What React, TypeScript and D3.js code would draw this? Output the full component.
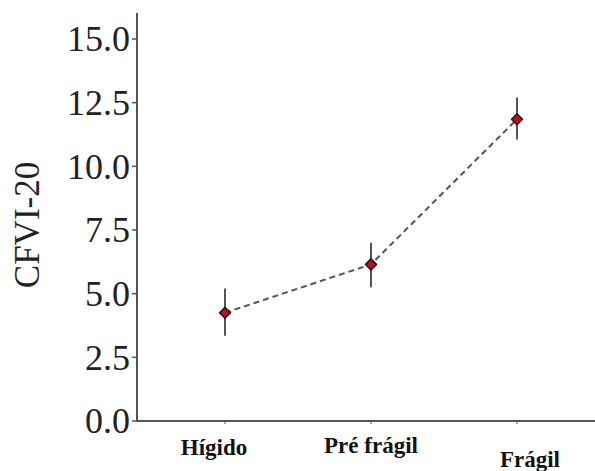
import React from "react";
import * as d3 from "d3";

const categories = ["Hígido", "Pré frágil", "Frágil"];
const means = [4.25, 6.15, 11.85];
const upper = [5.2, 7.0, 12.7];
const lower = [3.35, 5.25, 11.05];
const yTicks = [0, 2.5, 5, 7.5, 10, 12.5, 15];

const width = 595;
const height = 471;
const axisX = 137;
const axisTop = 13;

export default function App() {
  const y = d3.scaleLinear().domain([0, 15]).range([421, 39]);
  const x = d3.scalePoint().domain(categories).range([225, 517]);

  const pts = categories.map((c, i) => ({ c, m: means[i], hi: upper[i], lo: lower[i] }));
  const line = d3
    .line<{ c: string; m: number }>()
    .x((d) => x(d.c) as number)
    .y((d) => y(d.m));

  // labels sit a little off their ticks in the original
  const labelDx = [-11, 0, 13];
  const labelY = [455, 453, 467];

  return (
    <svg
      width={width}
      height={height}
      style={{ position: "absolute", left: 0, top: 0, background: "#fff" }}
    >
      {/* axes */}
      <line x1={axisX} x2={axisX} y1={axisTop} y2={y(0) + 1} stroke="#555" strokeWidth={2} />
      <line x1={axisX} x2={width} y1={y(0)} y2={y(0)} stroke="#555" strokeWidth={2} />
      {yTicks.map((t) => (
        <g key={t}>
          <line x1={axisX - 5} x2={axisX} y1={y(t)} y2={y(t)} stroke="#555" strokeWidth={1.5} />
          <text
            x={130}
            y={y(t)}
            dy="0.34em"
            textAnchor="end"
            fontFamily="'Liberation Serif', serif"
            fontSize={36}
            fill="#222"
          >
            {t.toFixed(1)}
          </text>
        </g>
      ))}
      <text
        transform="translate(39,225) rotate(-90)"
        textAnchor="middle"
        fontFamily="'Liberation Serif', serif"
        fontSize={35}
        fill="#222"
      >
        CFVI-20
      </text>
      {categories.map((c, i) => (
        <g key={c}>
          <line x1={x(c)} x2={x(c)} y1={y(0)} y2={y(0) + 3} stroke="#555" strokeWidth={1} />
          <text
            x={(x(c) as number) + labelDx[i]}
            y={labelY[i]}
            textAnchor="middle"
            fontFamily="'Liberation Serif', serif"
            fontWeight="bold"
            fontSize={23}
            fill="#111"
          >
            {c}
          </text>
        </g>
      ))}
      {/* dashed line */}
      <path d={line(pts) || ""} fill="none" stroke="#555" strokeWidth={2} strokeDasharray="6,4" />
      {/* error bars */}
      {pts.map((d) => (
        <line
          key={"e" + d.c}
          x1={x(d.c)}
          x2={x(d.c)}
          y1={y(d.hi)}
          y2={y(d.lo)}
          stroke="#555"
          strokeWidth={2}
        />
      ))}
      {/* markers: rounded diamond */}
      {pts.map((d) => (
        <path
          key={"m" + d.c}
          d={d3.symbol().type(d3.symbolSquare).size(60)() || ""}
          transform={`translate(${x(d.c)},${y(d.m)}) rotate(45)`}
          fill="#b0122a"
          stroke="#3a0a10"
          strokeWidth={1.5}
          strokeLinejoin="round"
        />
      ))}
    </svg>
  );
}
